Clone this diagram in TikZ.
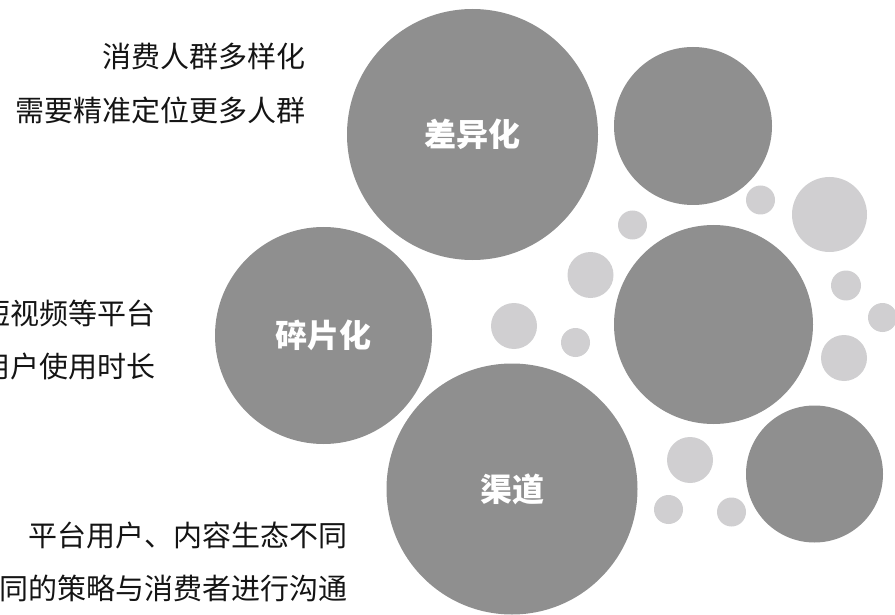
\documentclass[tikz,border=0pt]{standalone}
\usepackage{fontspec}
\newfontfamily\cjk{Noto Sans CJK SC}
\definecolor{darkdot}{RGB}{143,143,143}
\definecolor{lightdot}{RGB}{208,207,209}
\definecolor{bodytext}{RGB}{20,20,20}
\tikzset{
  bigdot/.style={circle, fill=darkdot, draw=none, inner sep=0pt, text=white, font=\cjk\bfseries\fontsize{32}{36}\selectfont},
  smalldot/.style={circle, fill=lightdot, draw=none, inner sep=0pt},
  note/.style={anchor=east, inner sep=0pt, text=bodytext, font=\cjk\fontsize{29}{32}\selectfont}
}
\begin{document}
\begin{tikzpicture}[x=1pt, y=-1pt]
\useasboundingbox (0,0) rectangle (895,615);
\clip (0,0) rectangle (895,615);
% dark circles
\node[bigdot, minimum size=251pt] (diff) at (472.5,134.5) {差异化};
\node[bigdot, minimum size=158pt] (tr) at (693,126) {};
\node[bigdot, minimum size=217pt] (frag) at (323.5,335.5) {碎片化};
\node[bigdot, minimum size=199pt] (mid) at (713.5,324.5) {};
\node[bigdot, minimum size=251pt] (chan) at (512,489) {渠道};
\node[bigdot, minimum size=137pt] (br) at (814.5,474) {};
% light circles
\node[smalldot, minimum size=29pt] (l1) at (632.5,225) {};
\node[smalldot, minimum size=29pt] (l2) at (760.5,200) {};
\node[smalldot, minimum size=75pt] (l3) at (829.5,214.5) {};
\node[smalldot, minimum size=46pt] (l4) at (590.5,275) {};
\node[smalldot, minimum size=30pt] (l5) at (846,285.5) {};
\node[smalldot, minimum size=29pt] (l6) at (882.5,317.5) {};
\node[smalldot, minimum size=46pt] (l7) at (514,326) {};
\node[smalldot, minimum size=29pt] (l8) at (575.5,342.5) {};
\node[smalldot, minimum size=46pt] (l9) at (844,358) {};
\node[smalldot, minimum size=46pt] (l10) at (690,460) {};
\node[smalldot, minimum size=29pt] (l11) at (668.5,509.5) {};
\node[smalldot, minimum size=29pt] (l12) at (731.5,512) {};
% notes
\node[note] (t1) at (306,56) {消费人群多样化};
\node[note] (t2) at (306,110) {需要精准定位更多人群};
\node[note] (t3) at (156,313) {短视频等平台};
\node[note] (t4) at (156,366) {用户使用时长};
\node[note] (t5) at (348,535) {平台用户、内容生态不同};
\node[note] (t6) at (348,588) {同的策略与消费者进行沟通};
\end{tikzpicture}
\end{document}
